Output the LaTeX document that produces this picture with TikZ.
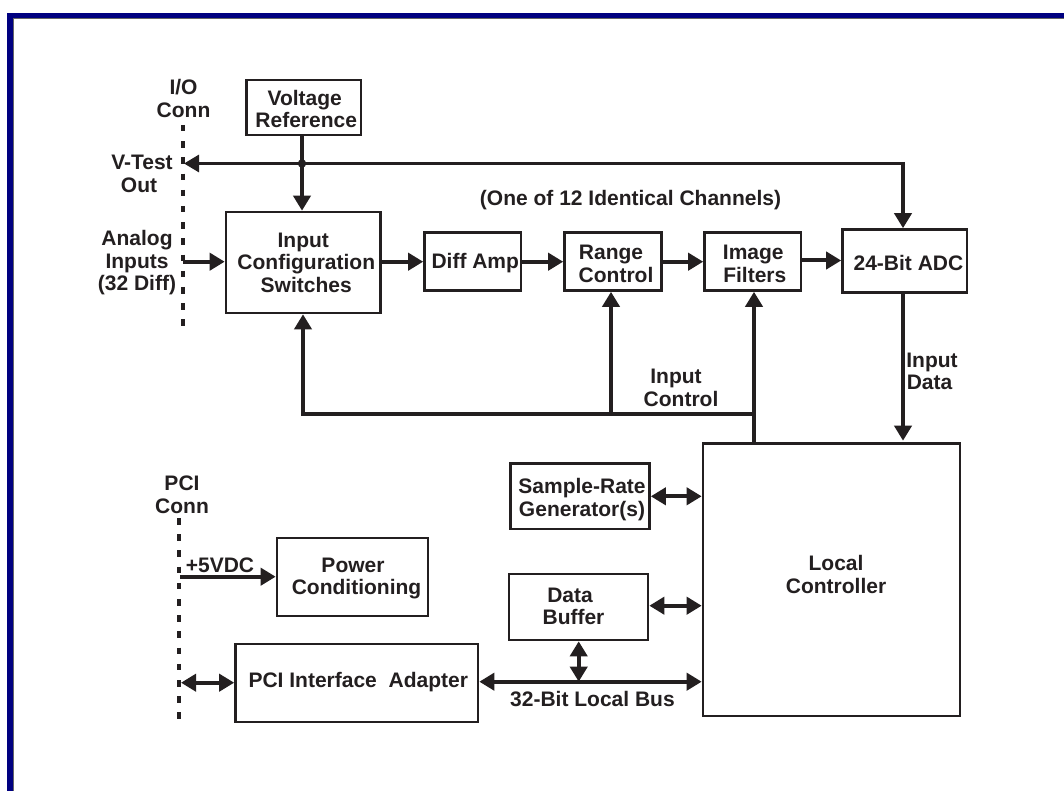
\documentclass[tikz,border=0pt]{standalone}
\usepackage{fontspec}
\setmainfont{Liberation Sans}
\usetikzlibrary{arrows.meta}
\definecolor{ink}{HTML}{231F20}
\definecolor{navy}{HTML}{000080}
\newcommand{\boxtext}[3]{\makebox[0pt]{\hspace*{\dimexpr2\dimexpr#1pt\relax\relax}\raisebox{\dimexpr-#2pt-8pt\relax}[0pt][0pt]{\begin{tabular}[c]{@{}c@{}}#3\end{tabular}}}}
\tikzset{
  x=1pt,y=-1pt,
  every node/.style={font=\fontsize{21}{22.7}\selectfont\bfseries,text=ink,inner sep=0pt,outer sep=0pt},
  blockbox/.style={draw=ink,line width=2.6pt,fill=white,anchor=center,outer sep=1.3pt},
  lbl/.style={anchor=center},
  tip/.tip={Triangle[length=15pt,width=17pt]},
  flow/.style={draw=ink,line width=4pt,-{tip}},
  both/.style={draw=ink,line width=4pt,{tip}-{tip}},
  wire/.style={draw=ink,line width=4pt},
  conn/.style={draw=ink,line width=4.5pt,dash pattern=on 6.5pt off 9.7pt},
}
\newcommand{\blk}[8]{% name, x1,y1,x2,y2, dx,dy, text
  \node[blockbox,minimum width=#4pt-#2pt,minimum height=#5pt-#3pt] (#1) at ({(#2+#4)/2},{(#3+#5)/2}) {\boxtext{#6}{#7}{#8}};}
\begin{document}
\begin{tikzpicture}
\useasboundingbox (0,0) rectangle (1064,791);
\fill[white] (0,0) rectangle (1064,791);
% frame
\fill[navy] (7,13) rectangle (1064,18);
\fill[navy] (7,13) rectangle (12.5,791);
\draw[gray!80!black,line width=0.8pt] (12.9,791) -- (12.9,18.4) -- (1064,18.4);
% blocks
\blk{vref}{246.5}{80}{361}{135}{2.5}{1.5}{\hspace*{-3pt}Voltage\\Reference}
\blk{cfg}{226}{212}{380.5}{313}{3}{0}{\hspace*{-6pt}Input\\Configuration\\Switches}
\blk{diff}{424.5}{232.5}{521}{290.5}{2.5}{0}{Diff Amp}
\blk{range}{564.5}{232.5}{661.5}{290.5}{3}{2}{\hspace*{-10pt}Range\\Control}
\blk{image}{704.5}{232.5}{801}{290.5}{2}{2}{\hspace*{-3pt}Image\\Filters}
\blk{adc}{842.5}{229.5}{967}{292.5}{3.7}{2}{24-Bit ADC}
\blk{local}{703}{443.5}{960}{716}{4.5}{-5}{Local\\Controller}
\blk{sample}{510.5}{463.5}{649.5}{529}{2}{1.5}{Sample-Rate\\Generator(s)}
\blk{data}{509}{574}{648}{640}{-5}{-1}{\hspace*{-7pt}Data\\Buffer}
\blk{power}{277}{538}{428}{616}{4}{-1}{\hspace*{-7pt}Power\\Conditioning}
\blk{pci}{235.5}{644}{478}{722}{1.5}{-3}{PCI Interface\ \ Adapter}
% free labels
\node[lbl] (ioc) at (183.5,98.8) {\boxtext{0}{0}{I/O\\Conn}};
\node[lbl] (vt) at (139,173.3) {\boxtext{0}{0}{\hspace*{6pt}V-Test\\Out}};
\node[lbl] (ana) at (137,260.7) {\boxtext{0}{0}{Analog\\Inputs\\(32 Diff)}};
\node[lbl] (pcic) at (182,494.5) {\boxtext{0}{0}{PCI\\Conn}};
\node[lbl] (vdc) at (220,565) {\boxtext{0}{0}{+5VDC}};
\node[lbl] (busl) at (592.5,699) {\boxtext{0}{0}{32-Bit Local Bus}};
\node[lbl] (chan) at (630.5,197.7) {\boxtext{0}{0}{(One of 12 Identical Channels)}};
\node[lbl] (ictl) at (681,387.8) {\boxtext{0}{0}{\hspace*{-10pt}Input\\Control}};
\node[lbl] (idat) at (932,371) {\boxtext{0}{0}{Input\\\hspace*{-5pt}Data}};
% named free ends and junctions
\coordinate (ioTop) at (183,125);
\coordinate (ioBot) at (183,327);
\coordinate (pciTop) at (179,518);
\coordinate (pciBot) at (179,720);
\coordinate (tee) at (302,163.5);
\coordinate (vout) at (184,163.5);
\coordinate (corner) at (905,163.5);
\coordinate (adcX) at (903,162);
\coordinate (anaIn) at (183,261.7);
\coordinate (bus1) at (303,414);
\coordinate (bus2) at (611,414);
\coordinate (bus3) at (754,414);
\coordinate (fiveIn) at (180,576.7);
\coordinate (pciIn) at (181,682.7);
\coordinate (dataX) at (578.7,0);
% connector lines
\draw[conn] (ioTop) -- (ioBot);
\draw[conn] (pciTop) -- (pciBot);
\draw[draw=ink,line width=3pt,-{tip}] (corner) -- (vout);
\draw[wire,-{tip}] (tee |- vref.south) -- (tee |- cfg.north);
\draw[wire,-{tip}] (adcX) -- (adcX |- adc.north);
\fill[ink] (tee) circle (4.2);
\draw[flow] (anaIn) -- (anaIn -| cfg.west);
\draw[flow] (cfg.east |- anaIn) -- (diff.west |- anaIn);
\draw[flow] (diff.east |- anaIn) -- (range.west |- anaIn);
\draw[flow] (range.east |- anaIn) -- (image.west |- anaIn);
\draw[flow] (image.east |- 0,260.5) -- (adc.west |- 0,260.5);
\draw[flow,shorten >=1.5pt] (adcX |- adc.south) -- (adcX |- local.north);
\draw[wire] ([xshift=-2pt]bus1) -- (bus3);
\draw[flow] (bus1) -- (bus1 |- cfg.south);
\draw[flow] (bus2) -- (bus2 |- range.south);
\draw[flow] (bus3 |- local.north) -- (bus3 |- image.south);
\draw[both] (sample.east |- 0,496.3) -- (local.west |- 0,496.3);
\draw[both] (data.east |- 0,605.7) -- (local.west |- 0,605.7);
\draw[both] (pci.east |- 0,681.7) -- (local.west |- 0,681.7);
\draw[both] (dataX |- data.south) -- (dataX |- 0,681.7);
\draw[flow] (fiveIn) -- (fiveIn -| power.west);
\draw[both] (pciIn) -- (pciIn -| pci.west);
\end{tikzpicture}
\end{document}
